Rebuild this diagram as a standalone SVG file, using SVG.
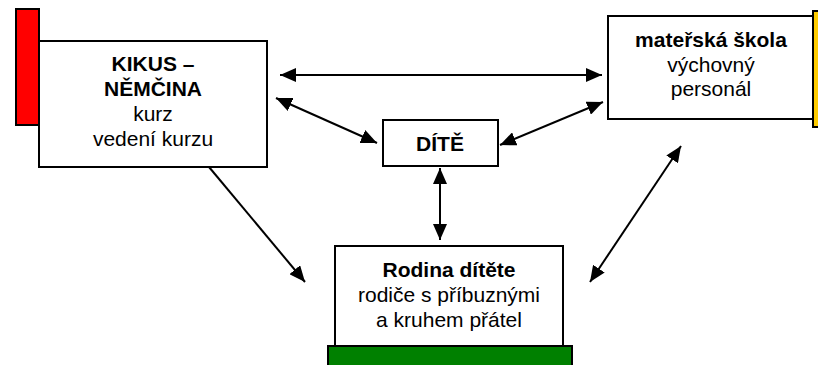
<svg xmlns="http://www.w3.org/2000/svg" width="818" height="365" viewBox="0 0 818 365">
<style>
.box{fill:#fff;stroke:#000;stroke-width:2}
.bar{stroke:#000;stroke-width:2}
.t{font-family:"Liberation Sans",Arial,sans-serif;font-size:21px;text-anchor:middle;fill:#000}
.b{font-weight:bold}
.c{stroke:#000;stroke-width:2;fill:none;marker-start:url(#a);marker-end:url(#a)}
.s{stroke:#000;stroke-width:2;fill:none;marker-end:url(#a)}
</style>
<defs>
<marker id="a" viewBox="0 0 16 14" refX="16" refY="7" markerWidth="16" markerHeight="14" markerUnits="userSpaceOnUse" orient="auto-start-reverse">
<path d="M0,0 L16,7 L0,14 Z" fill="#000"/>
</marker>
</defs>
<rect width="818" height="365" fill="#fff"/>
<g id="kikus">
<rect class="bar" x="16" y="9" width="23" height="116" fill="#ff0000"/>
<rect class="box" x="39" y="41" width="228" height="126"/>
<text class="t b" x="153" y="71">KIKUS –</text>
<text class="t b" x="153" y="96">NĚMČINA</text>
<text class="t" x="153" y="121">kurz</text>
<text class="t" x="153" y="146">vedení kurzu</text>
</g>
<g id="materska">
<rect class="bar" x="813" y="11" width="10" height="116" fill="#ffcc00"/>
<rect class="box" x="608" y="16" width="205" height="103"/>
<text class="t b" x="711" y="47">mateřská škola</text>
<text class="t" x="711" y="72">výchovný</text>
<text class="t" x="711" y="96">personál</text>
</g>
<g id="dite">
<rect class="box" x="383" y="120" width="115" height="46"/>
<text class="t b" x="440" y="151">DÍTĚ</text>
</g>
<g id="rodina">
<rect class="bar" x="328" y="346" width="244" height="25" fill="#008000"/>
<rect class="box" x="335" y="246" width="228" height="100"/>
<text class="t b" x="449" y="277">Rodina dítěte</text>
<text class="t" x="449" y="302">rodiče s příbuznými</text>
<text class="t" x="449" y="327">a kruhem přátel</text>
</g>
<g id="connectors">
<line class="c" x1="280" y1="75" x2="602" y2="75"/>
<line class="c" x1="276" y1="98" x2="377" y2="143"/>
<line class="c" x1="500" y1="145" x2="603" y2="102"/>
<line class="c" x1="440" y1="168" x2="440" y2="240"/>
<line class="s" x1="209" y1="167" x2="305" y2="282"/>
<line class="c" x1="590" y1="282" x2="681" y2="146"/>
</g>
</svg>
